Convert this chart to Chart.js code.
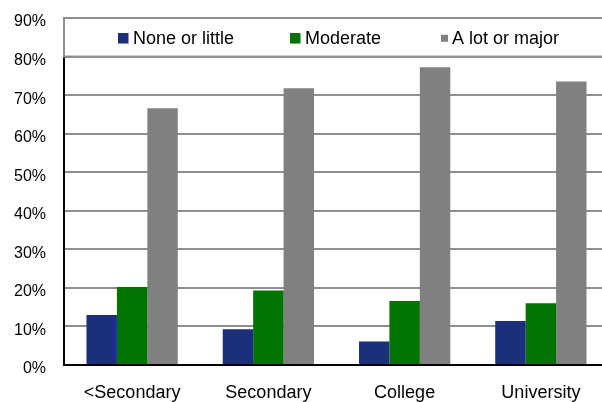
<!DOCTYPE html>
<html>
<head>
<meta charset="utf-8">
<script src="https://cdn.jsdelivr.net/npm/chart.js@4/dist/chart.umd.min.js"></script>
<style>
  html, body { margin: 0; padding: 0; overflow: hidden; background: #fff; }
  #wrap { width: 602px; height: 402px; overflow: hidden; position: relative; }
  canvas { display: block; }
</style>
</head>
<body>
<div id="wrap"><canvas id="c" width="612" height="402"></canvas></div>
<script>
// Education level categories
const categories = ['<Secondary', 'Secondary', 'College', 'University'];

// Series names and values (percent of respondents)
const seriesNames = ['None or little', 'Moderate', 'A lot or major'];
const noneOrLittle = [13.0, 9.3, 6.1, 11.4];
const moderate = [20.2, 19.3, 16.6, 16.0];
const aLotOrMajor = [66.6, 71.8, 77.2, 73.5];

// Y axis tick values (percent)
const yTickValues = [0, 10, 20, 30, 40, 50, 60, 70, 80, 90];

const seriesColors = ['#1b2f7a', '#007300', '#808080'];
const FONT = "'Liberation Sans', Arial, sans-serif";
const GRID = '#8e8e8e';

// Framed legend band drawn across the top of the plot (between the two top gridlines)
const legendBand = {
  id: 'legendBand',
  afterDraw(chart) {
    const { ctx, chartArea, scales } = chart;
    const y = scales.y;
    const top = y.getPixelForValue(yTickValues[yTickValues.length - 1]);
    const bottom = y.getPixelForValue(yTickValues[yTickValues.length - 2]);
    ctx.save();
    ctx.fillStyle = '#fff';
    ctx.fillRect(chartArea.left, top, chart.width - chartArea.left + 10, bottom - top);
    ctx.strokeStyle = GRID;
    ctx.lineWidth = 2;
    ctx.strokeRect(chartArea.left, top, chart.width - chartArea.left + 10, bottom - top);

    const mid = (top + bottom) / 2 + 1.5;
    const itemX = [118, 290, 441];
    const boxSize = [10.5, 10.5, 7];
    ctx.font = '18px ' + FONT;
    ctx.textBaseline = 'middle';
    ctx.textAlign = 'left';
    chart.data.datasets.forEach((ds, i) => {
      const s = boxSize[i];
      ctx.fillStyle = ds.backgroundColor;
      ctx.fillRect(itemX[i], mid - s / 2 - 0.5, s, s);
      ctx.fillStyle = '#000';
      ctx.fillText(ds.label, itemX[i] + (i === 2 ? 11 : 15), mid);
    });
    ctx.restore();
  }
};

new Chart(document.getElementById('c'), {
  type: 'bar',
  data: {
    labels: categories,
    datasets: [
      { label: seriesNames[0], data: noneOrLittle, backgroundColor: seriesColors[0] },
      { label: seriesNames[1], data: moderate, backgroundColor: seriesColors[1] },
      { label: seriesNames[2], data: aLotOrMajor, backgroundColor: seriesColors[2] }
    ]
  },
  options: {
    responsive: false,
    animation: false,
    events: [],
    layout: { padding: { top: 18, right: 3, left: 0, bottom: 0 } },
    datasets: { bar: { categoryPercentage: 0.67, barPercentage: 1.0, borderWidth: 0 } },
    plugins: {
      legend: { display: false },
      tooltip: { enabled: false }
    },
    scales: {
      x: {
        z: 1,
        grid: { display: false, drawTicks: false },
        border: { color: '#000', width: 2 },
        ticks: { color: '#000', font: { family: FONT, size: 18 }, padding: 17, maxRotation: 0 },
        afterFit(scale) {
          scale.height = 37;
          scale.paddingLeft = 0;
          scale.paddingRight = 0;
        }
      },
      y: {
        min: 0,
        max: 90,
        afterBuildTicks(scale) { scale.ticks = yTickValues.map(v => ({ value: v })); },
        grid: {
          drawTicks: false,
          lineWidth: 2,
          color: ctx => (ctx.tick && ctx.tick.value === 0) ? 'rgba(0,0,0,0)' : GRID
        },
        border: { color: '#000', width: 2 },
        ticks: {
          color: '#000',
          font: { family: FONT, size: 16 },
          padding: 18,
          labelOffset: 4,
          callback: v => v + '%'
        },
        afterFit(scale) {
          scale.width = 64;
          scale.paddingTop = 0;
          scale.paddingBottom = 0;
        }
      }
    }
  },
  plugins: [legendBand]
});
</script>
</body>
</html>
